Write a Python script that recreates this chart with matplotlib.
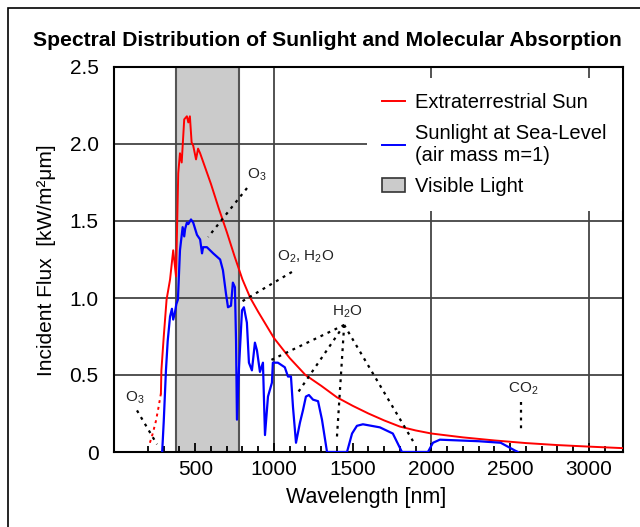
import numpy as np
import matplotlib
matplotlib.use('Agg')
import matplotlib.pyplot as plt
from matplotlib.lines import Line2D
from matplotlib.patches import Patch, Rectangle

plt.rcParams['font.family'] = ['Liberation Sans', 'DejaVu Sans']
plt.rcParams['mathtext.fontset'] = 'custom'
plt.rcParams['mathtext.rm'] = 'Liberation Sans'
plt.rcParams['mathtext.it'] = 'Liberation Sans'

# ---------------- spectra, wavelength [nm] / flux [kW/m2um] ----------------
sun_uv_nm = [212, 230, 250, 265, 282]
sun_uv_flux = [0.06, 0.12, 0.20, 0.28, 0.38]

sun_nm = [282, 285, 300, 318, 340, 360, 378, 392, 403, 414, 430, 447, 456, 466,
          477, 487, 505, 518, 531, 600, 650, 700, 750, 800, 850, 900, 1000,
          1100, 1200, 1300, 1400, 1500, 1600, 1700, 1800, 1900, 2000, 2200,
          2400, 2600, 2800, 3000, 3217]
sun_flux = [0.38, 0.53, 0.75, 0.99, 1.12, 1.31, 1.14, 1.81, 1.94, 1.88, 2.16,
            2.18, 2.14, 2.18, 2.01, 1.99, 1.90, 1.97, 1.94, 1.74, 1.58, 1.43,
            1.27, 1.12, 1.00, 0.91, 0.74, 0.61, 0.50, 0.43, 0.355, 0.30, 0.25,
            0.205, 0.165, 0.14, 0.12, 0.095, 0.075, 0.058, 0.045, 0.035, 0.025]

sea_nm = [290, 300, 314, 325, 340, 352, 360, 370, 380, 390, 403, 420, 430, 436,
          447, 456, 473, 487, 511, 531, 543, 550, 574, 614, 658, 676, 695, 708,
          727, 739, 752, 759, 765, 778, 797, 809, 828, 841, 860, 879, 892, 911,
          930, 943, 962, 987, 993, 1025, 1069, 1089, 1108, 1121, 1140, 1165,
          1184, 1203, 1222, 1248, 1280, 1305, 1337, 1464, 1496, 1527, 1565,
          1673, 1755, 1813, 1978, 2010, 2054, 2300, 2440, 2530, 2550]
sea_flux = [0.0, 0.20, 0.53, 0.72, 0.88, 0.93, 0.86, 0.90, 0.96, 0.99, 1.31,
            1.46, 1.40, 1.45, 1.49, 1.48, 1.51, 1.49, 1.41, 1.38, 1.29, 1.33,
            1.33, 1.29, 1.25, 1.18, 1.03, 0.94, 0.95, 1.10, 1.07, 0.73, 0.21,
            0.55, 0.92, 0.94, 0.84, 0.58, 0.53, 0.71, 0.66, 0.52, 0.58, 0.11,
            0.36, 0.45, 0.58, 0.58, 0.55, 0.49, 0.49, 0.29, 0.06, 0.19, 0.27,
            0.36, 0.37, 0.34, 0.33, 0.21, 0.0, 0.0, 0.12, 0.17, 0.18, 0.16,
            0.12, 0.0, 0.0, 0.06, 0.08, 0.07, 0.06, 0.01, 0.0]

visible_band = (380, 780)

# absorption labels: (text, x, y) and the dotted pointers
labels = [(r'$\mathregular{O_3}$', 892, 1.80),
          (r'$\mathregular{O_2}$, $\mathregular{H_2O}$', 1204, 1.27),
          (r'$\mathregular{H_2O}$', 1464, 0.91),
          (r'$\mathregular{O_3}$', 117, 0.35),
          (r'$\mathregular{CO_2}$', 2583, 0.41)]
pointers = [((829, 1.714), (582, 1.396)),
            ((1114, 1.169), (791, 0.974)),
            ((1446, 0.825), (969, 0.591)),
            ((1446, 0.825), (1146, 0.377)),
            ((1446, 0.825), (1400, 0.097)),
            ((1446, 0.825), (1883, 0.071)),
            ((130, 0.27), (257, 0.05)),
            ((2570, 0.325), (2570, 0.123))]

grid_x = [1000, 2000, 3000]
grid_y = [0.5, 1.0, 1.5, 2.0]

fig = plt.figure(figsize=(6.4, 5.27), dpi=100)
ax = fig.add_axes([114 / 640, 75 / 527, 509 / 640, 385 / 527])

ax.axvspan(*visible_band, facecolor='#cbcbcb', edgecolor='#555555', lw=1.5, zorder=0)
for gx in grid_x:
    ax.axvline(gx, color='#444444', lw=1.3, zorder=1)
for gy in grid_y:
    ax.axhline(gy, color='#444444', lw=1.3, zorder=1)

ax.plot(sun_uv_nm, sun_uv_flux, color='red', lw=1.4, ls=(0, (1.5, 2)), zorder=3)
ax.plot(sun_nm, sun_flux, color='red', lw=1.4, zorder=3)
ax.plot(sea_nm, sea_flux, color='#0000ff', lw=1.6, zorder=4)

for (x0, y0), (x1, y1) in pointers:
    ax.plot([x0, x1], [y0, y1], color='black', lw=1.6, ls=(0, (1.3, 2.2)), zorder=5)
for txt, x, y in labels:
    ax.text(x, y, txt, fontsize=11, ha='center', va='center', color='#222222', zorder=6)

ax.set_xlim(-16, 3217)
ax.set_ylim(0, 2.5)
ax.set_xticks(np.arange(500, 3001, 500))
ax.set_xticks(np.arange(200, 3101, 100), minor=True)
ax.set_yticks([0, 0.5, 1.0, 1.5, 2.0, 2.5])
ax.set_yticklabels(['0', '0.5', '1.0', '1.5', '2.0', '2.5'])
ax.tick_params(axis='x', which='major', direction='in', length=6.5, width=1.3,
               labelsize=15, pad=6)
ax.tick_params(axis='x', which='minor', direction='in', length=4.3, width=1.3)
ax.tick_params(axis='y', length=0, labelsize=15, pad=11)
for s in ax.spines.values():
    s.set_linewidth(1.5)

handles = [Line2D([], [], color='red', lw=1.4),
           Line2D([], [], color='#0000ff', lw=1.4),
           Patch(facecolor='#cbcbcb', edgecolor='#333333', lw=1.2)]
leg = ax.legend(handles, ['Extraterrestrial Sun', 'Sunlight at Sea-Level\n(air mass m=1)',
                          'Visible Light'],
                loc='upper left', bbox_to_anchor=(0.497, 0.971), fontsize=14.5,
                frameon=True, fancybox=False, handlelength=1.15, handletextpad=0.5,
                labelspacing=0.58, borderpad=0.75, borderaxespad=0)
leg.get_frame().set_facecolor('white')
leg.get_frame().set_edgecolor('none')
leg.get_frame().set_alpha(1)
leg.set_zorder(10)

fig.text(327 / 640, 1 - 41 / 527, 'Spectral Distribution of Sunlight and Molecular Absorption',
         fontsize=15.2, fontweight='bold', ha='center', va='center')
fig.text(366 / 640, 1 - 497 / 527, 'Wavelength [nm]', fontsize=15.5, ha='center', va='center')
fig.text(47 / 640, 1 - 260 / 527, 'Incident Flux  [kW/m²μm]', fontsize=15,
         rotation=90, ha='center', va='center')

fig.patches.append(Rectangle((7.5 / 640, -0.1), 1.0, 1.1 - 8 / 527, transform=fig.transFigure,
                             fill=False, edgecolor='black', lw=1.2))

fig.savefig('out.png', dpi=100)
